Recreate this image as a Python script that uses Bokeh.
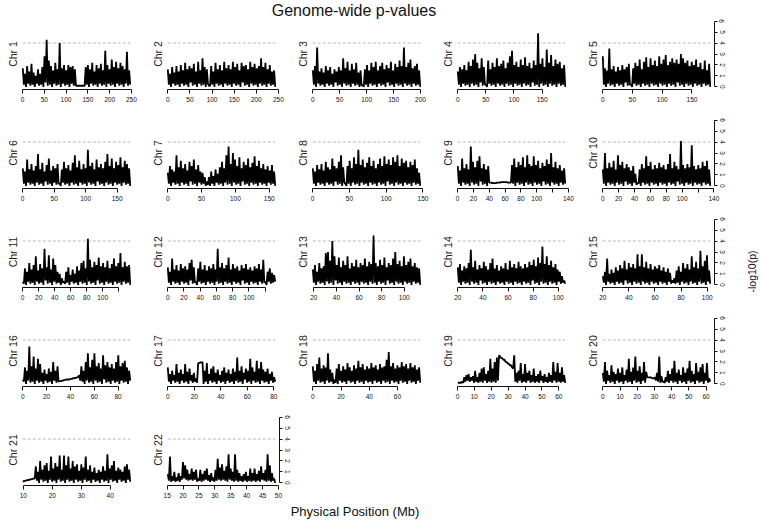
import numpy as np
from bokeh.plotting import figure
from bokeh.layouts import row, column
from bokeh.models import Range1d, Label, FixedTicker, Div, Spacer, Title
from bokeh.embed import file_html
from bokeh.resources import INLINE

FONT = "Liberation Sans"

# ---------------- data ----------------
chrom_names = ["Chr %d" % k for k in range(1, 23)]
chrom_start = [0.8, 0.0, 0.1, 0.1, 0.1, 0.2, 0.1, 0.2, 0.2, 0.1, 0.2, 0.1,
               19.1, 20.0, 20.0, 0.0, 0.0, 0.0, 0.2, 0.0, 9.8, 15.2]
chrom_end = [247.2, 242.7, 199.4, 191.1, 180.7, 170.8, 158.8, 146.2, 136.0, 135.3, 134.4, 132.3,
             114.1, 105.5, 102.3, 90.2, 81.1, 76.1, 63.8, 62.4, 46.9, 49.0]

THRESHOLD = 4
Y_TICKS = [0, 1, 2, 3, 4, 5, 6]

x_ticks = [
    [0, 50, 100, 150, 200, 250], [0, 50, 100, 150, 200, 250], [0, 50, 100, 150, 200],
    [0, 50, 100, 150], [0, 50, 100, 150],
    [0, 50, 100, 150], [0, 50, 100, 150], [0, 50, 100, 150],
    [0, 20, 40, 60, 80, 100, 120, 140], [0, 20, 40, 60, 80, 100, 120, 140],
    [0, 20, 40, 60, 80, 100, 120], [0, 20, 40, 60, 80, 100, 120],
    [20, 40, 60, 80, 100], [20, 40, 60, 80, 100], [20, 40, 60, 80, 100],
    [0, 20, 40, 60, 80], [0, 20, 40, 60, 80], [0, 20, 40, 60],
    [0, 10, 20, 30, 40, 50, 60], [0, 10, 20, 30, 40, 50, 60],
    [10, 20, 30, 40], [15, 20, 25, 30, 35, 40, 45, 50],
]
# ticks drawn without a label (labels dropped where they would collide)
unlabeled_ticks = {9: [120], 10: [120], 11: [120], 12: [120]}

chr1 = [1.7,0.2, 1.2,0.0, 1.9,0.3, 1.4,0.1, 2.1,0.2, 1.3,0.0, 1.0,0.3, 1.6,0.1, 1.2,0.2, 1.8,0.0,
        2.8,0.4, 4.3,0.1, 2.4,0.2, 1.9,0.0, 1.5,0.3, 2.2,0.1, 1.6,0.2, 4.0,0.0, 1.7,0.3, 2.0,0.1,
        1.5,0.2, 2.0,0.0, 1.8,0.3, 1.9,0.1, 1.6,0.1, 0.1,0.1, 0.1,0.1, 0.1,0.1, 0.1,0.1, 1.8,0.2,
        2.0,0.0, 1.6,0.3, 2.2,0.1, 1.4,0.2, 2.0,0.0, 1.7,0.3, 2.1,0.1, 1.5,0.2, 3.3,0.0, 2.0,0.3,
        1.6,0.1, 2.5,0.2, 1.8,0.0, 2.3,0.3, 1.7,0.1, 2.2,0.2, 1.9,0.0, 1.6,0.3, 3.2,0.1, 1.5,0.2]
chr2 = [1.6,0.2, 1.2,0.0, 1.8,0.3, 1.3,0.1, 1.9,0.2, 1.4,0.0, 2.0,0.3, 1.5,0.1, 2.2,0.2, 1.6,0.0,
        1.9,0.4, 1.7,0.1, 2.1,0.2, 1.4,0.0, 2.3,0.3, 1.5,0.1, 2.6,0.2, 1.8,0.0, 1.6,0.3, 0.1,0.1,
        1.9,0.2, 1.4,0.0, 2.2,0.3, 1.6,0.1, 2.0,0.2, 1.5,0.0, 2.3,0.3, 1.7,0.1, 2.0,0.2, 1.6,0.0,
        2.3,0.3, 1.8,0.1, 2.1,0.2, 1.5,0.0, 2.2,0.4, 1.9,0.1, 2.0,0.2, 1.6,0.0, 2.3,0.3, 1.8,0.1,
        2.1,0.2, 1.7,0.0, 1.9,0.3, 2.6,0.1, 1.8,0.2, 2.2,0.0, 1.6,0.3, 2.0,0.1, 1.4,0.2, 1.5,0.0]
chr3 = [1.5,0.2, 1.9,0.0, 3.6,0.3, 1.4,0.1, 1.7,0.2, 1.3,0.0, 1.9,0.3, 1.5,0.1, 1.8,0.2, 1.2,0.0,
        1.6,0.4, 1.4,0.1, 1.8,0.2, 1.5,0.0, 2.6,0.3, 1.7,0.1, 2.3,0.2, 1.5,0.0, 2.1,0.3, 1.6,0.1,
        2.2,0.2, 1.3,0.0, 1.5,0.1, 0.2,0.0, 1.6,0.2, 2.0,0.0, 1.5,0.3, 2.2,0.1, 1.8,0.2, 2.3,0.0,
        1.5,0.3, 1.9,0.1, 2.2,0.2, 1.6,0.0, 2.0,0.4, 1.7,0.1, 2.3,0.2, 1.5,0.0, 2.1,0.3, 1.8,0.1,
        2.4,0.2, 1.9,0.0, 3.6,0.3, 1.8,0.1, 2.2,0.2, 2.5,0.0, 1.7,0.3, 1.9,0.1, 2.1,0.2, 1.5,0.0]
chr4 = [1.4,0.2, 1.8,0.0, 1.6,0.3, 2.0,0.1, 1.5,0.2, 2.3,0.0, 1.9,0.3, 2.5,0.1, 3.0,0.2, 2.2,0.0,
        1.7,0.4, 2.6,0.1, 1.8,0.2, 0.2,0.0, 2.4,0.3, 1.6,0.1, 2.2,0.2, 1.8,0.0, 2.6,0.3, 1.9,0.1,
        2.1,0.2, 2.4,0.0, 1.7,0.3, 2.2,0.1, 2.8,0.2, 3.3,0.0, 2.0,0.3, 2.3,0.1, 1.8,0.2, 2.5,0.0,
        2.0,0.3, 2.7,0.1, 1.9,0.2, 2.2,0.0, 1.7,0.4, 2.4,0.1, 2.0,0.2, 4.9,0.0, 2.1,0.3, 2.6,0.1,
        1.8,0.2, 3.4,0.0, 2.2,0.3, 2.9,0.1, 1.9,0.2, 2.5,0.0, 2.1,0.3, 2.3,0.1, 1.7,0.2, 2.0,0.0]
chr5 = [2.8,0.2, 1.7,0.0, 1.5,0.3, 3.5,0.1, 1.6,0.2, 1.9,0.0, 1.4,0.3, 1.8,0.1, 1.5,0.2, 2.0,0.0,
        1.6,0.4, 1.8,0.1, 2.1,0.2, 0.2,0.0, 1.7,0.3, 2.2,0.1, 1.9,0.2, 2.5,0.0, 1.6,0.3, 2.3,0.1,
        2.7,0.2, 1.8,0.0, 2.6,0.3, 2.0,0.1, 2.4,0.2, 1.9,0.0, 2.8,0.3, 2.1,0.1, 2.5,0.2, 2.9,0.0,
        2.0,0.3, 2.3,0.1, 2.6,0.2, 2.2,0.0, 2.5,0.4, 2.1,0.1, 3.0,0.2, 2.6,0.0, 2.2,0.3, 2.4,0.1,
        1.9,0.2, 2.3,0.0, 2.0,0.3, 2.5,0.1, 1.8,0.2, 2.2,0.0, 1.6,0.3, 2.4,0.1, 1.5,0.2, 2.1,0.0]
chr6 = [1.6,0.2, 1.3,0.0, 2.4,0.3, 1.5,0.1, 2.0,0.2, 1.4,0.0, 1.8,0.3, 2.9,0.1, 1.5,0.2, 2.1,0.0,
        1.3,0.4, 1.9,0.1, 2.5,0.2, 1.4,0.0, 1.8,0.3, 1.6,0.1, 2.0,0.2, 0.2,0.0, 1.5,0.3, 2.2,0.1,
        1.6,0.2, 1.9,0.0, 1.4,0.3, 2.1,0.1, 2.8,0.2, 1.7,0.0, 2.3,0.3, 1.5,0.1, 2.0,0.2, 1.6,0.0,
        3.3,0.3, 1.8,0.1, 2.1,0.2, 1.5,0.0, 2.4,0.4, 1.7,0.1, 2.0,0.2, 1.6,0.0, 2.2,0.3, 2.9,0.1,
        1.8,0.2, 2.5,0.0, 1.6,0.3, 2.2,0.1, 1.9,0.2, 2.6,0.0, 1.7,0.3, 2.3,0.1, 2.0,0.2, 1.6,0.0]
chr7 = [1.2,0.2, 1.8,0.0, 1.5,0.3, 1.3,0.1, 2.8,0.2, 1.7,0.0, 2.3,0.3, 1.6,0.1, 2.0,0.2, 1.4,0.0,
        2.2,0.4, 1.8,0.1, 2.4,0.2, 1.5,0.0, 1.9,0.3, 1.3,0.1, 1.2,0.2, 0.8,0.0, 0.4,0.1, 0.8,0.0,
        1.3,0.2, 0.9,0.0, 1.5,0.3, 1.1,0.1, 1.7,0.2, 2.2,0.0, 1.6,0.3, 2.8,0.1, 3.6,0.2, 2.0,0.0,
        3.0,0.3, 2.4,0.1, 1.8,0.2, 2.6,0.0, 1.6,0.4, 2.2,0.1, 1.9,0.2, 2.5,0.0, 1.7,0.3, 2.1,0.1,
        2.7,0.2, 1.8,0.0, 2.3,0.3, 1.6,0.1, 2.0,0.2, 1.5,0.0, 1.8,0.3, 1.4,0.1, 1.9,0.2, 1.3,0.0]
chr8 = [1.6,0.2, 1.3,0.0, 1.9,0.3, 1.5,0.1, 2.0,0.2, 1.4,0.0, 2.2,0.3, 1.7,0.1, 1.5,0.2, 2.5,0.0,
        1.8,0.4, 1.6,0.1, 2.2,0.2, 2.8,0.0, 1.7,0.3, 0.2,0.0, 1.8,0.2, 2.3,0.0, 1.6,0.3, 2.6,0.1,
        2.0,0.2, 3.3,0.0, 1.9,0.3, 2.4,0.1, 1.7,0.2, 2.1,0.0, 2.6,0.3, 1.8,0.1, 2.3,0.2, 1.6,0.0,
        2.0,0.3, 2.5,0.1, 1.8,0.2, 2.7,0.0, 2.0,0.4, 2.4,0.1, 1.9,0.2, 2.6,0.0, 2.2,0.3, 2.8,0.1,
        1.8,0.2, 2.5,0.0, 2.1,0.3, 2.3,0.1, 1.7,0.2, 2.2,0.0, 1.9,0.3, 2.4,0.1, 1.6,0.2, 1.2,0.0]
chr9 = [1.8,0.2, 1.4,0.0, 2.5,0.3, 1.6,0.1, 2.0,0.2, 1.5,0.0, 3.6,0.3, 2.2,0.1, 1.7,0.2, 2.3,0.0,
        2.7,0.4, 1.6,0.1, 2.0,0.2, 1.5,0.0, 1.8,0.3,
        0.3,0.3, 0.25,0.25, 0.25,0.25, 0.3,0.3, 0.3,0.3, 0.35,0.35, 0.35,0.35, 0.35,0.35, 0.3,0.3, 0.3,0.3,
        1.9,0.2, 2.5,0.0, 1.7,0.3, 2.2,0.1, 1.9,0.2, 2.6,0.0, 1.7,0.3, 2.8,0.1, 2.0,0.2, 1.8,0.0,
        2.7,0.3, 1.9,0.1, 2.3,0.2, 1.6,0.0, 2.1,0.4, 1.8,0.1, 2.4,0.2, 2.0,0.0, 3.0,0.3, 1.7,0.1,
        2.2,0.2, 1.6,0.0, 1.9,0.3, 1.4,0.1, 1.6,0.2]
chr10 = [1.5,0.2, 3.0,0.0, 1.6,0.3, 2.1,0.1, 1.7,0.2, 2.3,0.0, 1.5,0.3, 2.8,0.1, 1.9,0.2, 2.2,0.0,
         1.6,0.4, 2.0,0.1, 1.7,0.2, 1.4,0.0, 1.8,0.3, 1.1,0.1, 0.3,0.2, 1.5,0.0, 2.0,0.3, 1.6,0.1,
         2.7,0.2, 1.8,0.0, 2.2,0.3, 1.5,0.1, 1.9,0.2, 1.6,0.0, 2.1,0.3, 1.7,0.1, 1.9,0.2, 1.5,0.0,
         2.0,0.3, 2.9,0.1, 1.6,0.2, 2.2,0.0, 1.8,0.4, 1.5,0.1, 4.1,0.2, 1.9,0.0, 1.6,0.3, 2.0,0.1,
         1.7,0.2, 3.7,0.0, 1.8,0.3, 1.5,0.1, 1.9,0.2, 1.6,0.0, 2.2,0.3, 1.8,0.1, 2.3,0.2, 1.5,0.0]
chr11 = [0.3,0.1, 1.5,0.0, 1.2,0.3, 2.0,0.1, 1.4,0.2, 1.8,0.0, 2.6,0.3, 1.3,0.1, 1.9,0.2, 1.5,0.0,
         3.3,0.4, 1.6,0.1, 2.7,0.2, 1.4,0.0, 2.4,0.3, 1.8,0.1, 1.2,0.2, 1.0,0.0, 0.6,0.2, 0.3,0.1,
         1.2,0.2, 1.6,0.0, 0.9,0.3, 1.4,0.1, 1.0,0.2, 1.7,0.0, 1.3,0.3, 2.0,0.1, 2.2,0.2, 1.5,0.0,
         4.2,0.3, 2.3,0.1, 1.6,0.2, 2.1,0.0, 1.8,0.4, 2.5,0.1, 1.7,0.2, 2.0,0.0, 1.6,0.3, 2.2,0.1,
         1.5,0.2, 1.9,0.0, 2.4,0.3, 1.7,0.1, 2.0,0.2, 2.9,0.0, 1.6,0.3, 2.1,0.1, 1.7,0.2, 1.8,0.0]
chr12 = [1.6,0.2, 1.2,0.0, 2.4,0.3, 1.4,0.1, 1.8,0.2, 1.3,0.0, 1.9,0.3, 1.5,0.1, 1.7,0.2, 1.4,0.0,
         2.0,0.4, 2.3,0.1, 1.6,0.2, 0.3,0.0, 1.5,0.3, 2.1,0.1, 1.4,0.2, 1.8,0.0, 1.3,0.3, 1.7,0.1,
         1.5,0.2, 1.9,0.0, 1.4,0.3, 3.3,0.1, 1.6,0.2, 2.0,0.0, 1.5,0.3, 1.8,0.1, 2.5,0.2, 1.4,0.0,
         1.9,0.3, 1.5,0.1, 1.7,0.2, 1.3,0.0, 1.8,0.4, 1.5,0.1, 1.9,0.2, 1.4,0.0, 1.6,0.3, 1.3,0.1,
         1.7,0.2, 1.5,0.0, 1.9,0.3, 1.4,0.1, 2.3,0.2, 0.3,0.0, 1.2,0.3, 1.5,0.1, 1.1,0.2, 0.9,0.3]
chr13 = [1.4,0.2, 1.8,0.0, 1.2,0.3, 2.0,0.1, 1.5,0.2, 1.7,0.0, 2.9,0.3, 3.0,0.1, 2.2,0.2, 4.0,0.0,
         2.6,0.4, 1.8,0.1, 2.5,0.2, 1.6,0.0, 2.2,0.3, 1.8,0.1, 2.6,0.2, 1.5,0.0, 2.0,0.3, 1.7,0.1,
         2.3,0.2, 1.6,0.0, 2.0,0.3, 1.8,0.1, 2.4,0.2, 1.7,0.0, 2.1,0.3, 1.9,0.1, 4.5,0.2, 2.0,0.0,
         1.7,0.3, 2.3,0.1, 1.8,0.2, 2.5,0.0, 1.6,0.4, 2.0,0.1, 1.8,0.2, 2.4,0.0, 3.0,0.3, 1.9,0.1,
         2.2,0.2, 1.7,0.0, 2.6,0.3, 1.8,0.1, 2.1,0.2, 2.4,0.0, 1.7,0.3, 2.0,0.1, 1.6,0.2, 1.5,0.0]
chr14 = [1.6,0.2, 1.9,0.0, 1.3,0.3, 1.7,0.1, 1.5,0.2, 2.0,0.0, 3.2,0.3, 1.6,0.1, 2.2,0.2, 1.4,0.0,
         1.8,0.4, 1.5,0.1, 2.1,0.2, 1.7,0.0, 1.4,0.3, 2.0,0.1, 2.4,0.2, 1.5,0.0, 1.8,0.3, 1.3,0.1,
         1.7,0.2, 1.5,0.0, 2.0,0.3, 1.4,0.1, 2.2,0.2, 1.6,0.0, 1.9,0.3, 1.5,0.1, 2.1,0.2, 1.7,0.0,
         1.5,0.3, 1.9,0.1, 1.6,0.2, 2.1,0.0, 1.8,0.4, 2.3,0.1, 1.7,0.2, 2.5,0.0, 2.0,0.3, 3.5,0.1,
         1.9,0.2, 2.6,0.0, 1.8,0.3, 2.2,0.1, 1.6,0.2, 1.9,0.0, 1.4,0.3, 1.2,0.1, 0.8,0.2, 0.4,0.1]
chr15 = [0.8,0.2, 1.2,0.0, 2.4,0.3, 1.0,0.1, 1.4,0.2, 1.1,0.0, 1.6,0.3, 1.3,0.1, 1.8,0.2, 1.5,0.0,
         2.2,0.4, 1.4,0.1, 2.0,0.2, 1.6,0.0, 1.9,0.3, 1.5,0.1, 2.8,0.2, 1.7,0.0, 2.8,0.3, 1.6,0.1,
         2.1,0.2, 1.5,0.0, 1.9,0.3, 1.4,0.1, 1.7,0.2, 1.5,0.0, 1.8,0.3, 1.3,0.1, 1.6,0.2, 1.2,0.0,
         1.5,0.3, 1.1,0.1, 0.4,0.2, 0.6,0.1, 1.3,0.2, 1.7,0.0, 1.2,0.3, 2.0,0.1, 1.5,0.2, 1.9,0.0,
         1.4,0.3, 2.6,0.1, 1.6,0.2, 2.1,0.0, 1.5,0.3, 3.1,0.1, 1.7,0.2, 2.2,0.0, 2.7,0.3, 1.3,0.1]
chr16 = [0.4,0.2, 1.5,0.0, 1.2,0.3, 3.4,0.1, 1.6,0.2, 2.5,0.0, 1.4,0.3, 2.3,0.1, 1.8,0.2, 1.0,0.0,
         1.3,0.3, 0.9,0.1, 1.4,0.2, 1.1,0.0, 2.0,0.3, 1.2,0.1, 1.6,0.2,
         0.25,0.25, 0.3,0.3, 0.35,0.35, 0.4,0.4, 0.4,0.4, 0.45,0.45, 0.5,0.5, 0.55,0.55, 0.6,0.6, 0.8,0.3,
         1.6,0.2, 1.2,0.0, 2.0,0.3, 2.8,0.1, 1.5,0.2, 2.2,0.0, 2.8,0.3, 1.6,0.1, 1.9,0.2, 1.4,0.0,
         2.6,0.4, 1.7,0.1, 2.0,0.2, 1.5,0.0, 1.8,0.3, 1.4,0.1, 2.0,0.2, 2.6,0.0, 1.6,0.3, 1.9,0.1,
         2.1,0.2, 1.5,0.0, 1.2,0.3]
chr17 = [1.5,0.2, 0.9,0.0, 1.2,0.3, 0.8,0.1, 1.8,0.2, 1.0,0.0, 1.3,0.3, 0.9,0.1, 1.8,0.2, 1.1,0.0,
         1.4,0.3, 0.8,0.1, 1.0,0.2, 0.5,0.1, 1.9,1.9, 1.95,1.95, 2.0,0.0, 1.2,0.2, 1.9,0.0, 0.9,0.3,
         1.4,0.1, 1.6,0.2, 1.0,0.0, 1.3,0.3, 0.8,0.1, 1.2,0.2, 1.5,0.0, 1.0,0.3, 1.3,0.1, 0.9,0.2,
         1.4,0.0, 1.1,0.3, 2.4,0.1, 1.2,0.2, 1.6,0.0, 1.0,0.4, 1.4,0.1, 1.2,0.2, 2.3,0.0, 1.5,0.3,
         1.1,0.1, 2.1,0.2, 1.4,0.0, 2.0,0.3, 1.3,0.1, 1.1,0.2, 1.4,0.0, 0.9,0.3, 1.1,0.1, 0.6,0.2]
chr18 = [1.6,0.2, 1.2,0.0, 1.8,0.3, 2.4,0.1, 1.4,0.2, 1.7,0.0, 1.5,0.3, 2.8,0.1, 1.3,0.2, 1.0,0.0,
         0.4,0.1, 1.4,0.0, 1.8,0.3, 1.2,0.1, 1.6,0.2, 1.3,0.0, 1.9,0.3, 1.5,0.1, 1.2,0.2, 1.7,0.0,
         1.4,0.3, 2.1,0.1, 1.5,0.2, 1.8,0.0, 1.3,0.3, 1.6,0.1, 1.4,0.2, 1.9,0.0, 1.5,0.3, 1.7,0.1,
         1.3,0.2, 1.8,0.0, 1.5,0.3, 1.6,0.1, 2.2,0.2, 2.9,0.0, 1.6,0.3, 1.9,0.1, 1.4,0.2, 1.7,0.0,
         1.5,0.3, 2.0,0.1, 1.6,0.2, 1.8,0.0, 1.4,0.3, 1.9,0.1, 1.5,0.2, 1.7,0.0, 1.3,0.3, 1.5,0.1]
chr19 = [0.1,0.1, 0.1,0.1, 0.2,0.1, 0.6,0.2, 0.8,0.3, 0.9,0.2, 0.6,0.3, 0.7,0.1, 1.2,0.2, 0.6,0.1,
         1.0,0.2, 1.4,0.1, 1.5,0.3, 0.9,0.1, 1.2,0.2, 2.3,0.1, 1.4,0.2, 2.0,0.1, 2.4,0.3, 2.6,2.5,
         2.35,2.35, 2.2,2.2, 2.0,2.0, 1.85,1.85, 1.7,1.7, 1.5,1.4, 2.6,0.2, 1.0,0.1, 1.2,0.3, 1.9,0.1,
         0.9,0.2, 1.8,0.1, 1.0,0.3, 1.2,0.1, 0.8,0.2, 1.4,0.1, 0.7,0.2, 0.9,0.1, 1.2,0.3, 0.7,0.1,
         0.9,0.2, 0.6,0.1, 1.0,0.2, 0.8,0.1, 2.0,0.3, 1.1,0.1, 1.9,0.2, 1.0,0.1, 1.5,0.2, 0.8,0.1]
chr20 = [1.0,0.2, 2.0,0.0, 1.2,0.3, 0.8,0.1, 1.7,0.2, 1.1,0.0, 0.9,0.3, 1.4,0.1, 1.0,0.2, 1.5,0.0,
         0.8,0.3, 1.3,0.1, 2.3,0.2, 1.1,0.0, 1.5,0.3, 2.5,0.1, 1.2,0.2, 1.6,0.0, 1.0,0.3, 2.0,0.1,
         1.1,0.6, 0.6,0.6, 0.6,0.55, 0.5,0.5, 0.6,0.3, 1.0,0.2, 2.5,0.1, 0.7,0.2, 0.2,0.1, 0.6,0.2,
         1.2,0.1, 0.9,0.3, 1.4,0.1, 2.1,0.2, 1.0,0.0, 1.3,0.3, 0.8,0.1, 1.5,0.2, 1.0,0.0, 1.4,0.3,
         2.1,0.1, 1.2,0.2, 0.9,0.0, 1.9,0.3, 1.1,0.1, 1.5,0.2, 1.8,0.0, 1.0,0.3, 1.9,0.1, 0.5,0.2]
chr21 = [0.15,0.15, 0.2,0.2, 0.25,0.25, 0.3,0.3, 0.35,0.35, 0.4,0.4, 1.5,0.2, 1.0,0.0, 2.0,0.3, 1.2,0.1,
         1.6,0.2, 1.8,0.0, 1.1,0.3, 2.4,0.1, 1.3,0.2, 1.8,0.0, 1.5,0.3, 2.5,0.1, 1.2,0.2, 2.5,0.0,
         1.6,0.3, 2.4,0.1, 1.3,0.2, 2.0,0.0, 1.5,0.3, 1.7,0.1, 1.1,0.2, 1.7,0.0, 1.4,0.3, 2.4,0.1,
         1.2,0.2, 1.6,0.0, 1.0,0.3, 1.4,0.1, 0.9,0.2, 1.2,0.0, 1.0,0.3, 1.5,0.1, 1.1,0.2, 2.6,0.0,
         1.3,0.3, 1.6,0.1, 2.0,0.2, 1.1,0.0, 1.4,0.3, 1.2,0.1, 1.0,0.2, 1.5,0.0, 1.7,0.3, 1.2,0.1]
chr22 = [0.8,0.2, 2.4,0.1, 0.6,0.2, 1.0,0.1, 0.5,0.2, 0.9,0.1, 0.6,0.3, 1.9,0.4, 1.6,0.3, 1.2,0.2,
         0.8,0.3, 1.3,0.2, 1.0,0.3, 1.2,0.1, 0.4,0.2, 1.2,0.1, 0.8,0.2, 1.1,0.3, 1.3,0.2, 0.7,0.1,
         0.9,0.2, 0.5,0.1, 1.2,0.2, 2.2,0.3, 1.4,0.2, 1.7,0.3, 1.1,0.2, 1.5,0.1, 2.6,0.3, 1.3,0.2,
         1.0,0.1, 2.6,0.2, 1.2,0.1, 0.9,0.2, 0.6,0.1, 0.8,0.2, 1.0,0.1, 0.6,0.2, 1.3,0.1, 0.9,0.2,
         1.3,0.1, 0.8,0.2, 1.1,0.1, 1.5,0.3, 0.9,0.2, 1.2,0.1, 2.6,0.2, 1.6,0.1, 0.9,0.2, 0.4,0.0]

series = [chr1, chr2, chr3, chr4, chr5, chr6, chr7, chr8, chr9, chr10, chr11,
          chr12, chr13, chr14, chr15, chr16, chr17, chr18, chr19, chr20, chr21, chr22]

# ---------------- layout ----------------
PAGE_W = 762
TITLE_H = 18         # space above the first panel row
PANEL_W = 145
FRAME_W = 117
FRAME_H = 71
LEFT_B, TOP_B, BOTTOM_B = 13, 8, 20
RIGHT_B = PANEL_W - FRAME_W - LEFT_B
OUTER_L = 17 - LEFT_B  # first frame starts 17px from the page edge
Y_LO, Y_HI = 0, 6
Y_PAD = 0.04 * (Y_HI - Y_LO)
LINE_W = 1.8

grid_layout = [[0, 1, 2, 3, 4], [5, 6, 7, 8, 9], [10, 11, 12, 13, 14],
               [15, 16, 17, 18, 19], [20, 21]]


def make_panel(i, r, right_axis):
    s, e = chrom_start[i], chrom_end[i]
    pad = 0.04 * (e - s)
    top = 0 if r == 0 else TOP_B
    p = figure(width=PANEL_W, height=top + FRAME_H + BOTTOM_B,
               x_range=Range1d(s - pad, e + pad),
               y_range=Range1d(Y_LO - Y_PAD, Y_HI + Y_PAD),
               output_backend="svg", toolbar_location=None,
               y_axis_location="right" if right_axis else None,
               min_border_left=LEFT_B, min_border_right=RIGHT_B,
               min_border_top=top, min_border_bottom=BOTTOM_B)
    p.outline_line_color = None
    p.grid.visible = False
    p.background_fill_color = None
    p.border_fill_color = None

    ax = p.xaxis[0]
    ticks = x_ticks[i]
    ax.ticker = FixedTicker(ticks=ticks, minor_ticks=[])
    ax.bounds = (ticks[0], ticks[-1])
    ov = unlabeled_ticks.get(i + 1, [])
    if ov:
        ax.major_label_overrides = {t: "" for t in ov}
    ax.major_tick_out = 4
    ax.major_tick_in = 0
    ax.minor_tick_line_color = None
    ax.axis_line_color = "#111111"
    ax.major_tick_line_color = "#111111"
    ax.major_label_text_font = FONT
    ax.major_label_text_font_size = "6.5px"
    ax.major_label_text_color = "#111111"
    ax.major_label_standoff = 3

    if right_axis:
        ay = p.yaxis[0]
        ay.ticker = FixedTicker(ticks=Y_TICKS, minor_ticks=[])
        ay.bounds = (Y_TICKS[0], Y_TICKS[-1])
        ay.major_tick_out = 3
        ay.major_tick_in = 0
        ay.minor_tick_line_color = None
        ay.axis_line_color = "#111111"
        ay.major_tick_line_color = "#111111"
        ay.major_label_text_font = FONT
        ay.major_label_text_font_size = "6.5px"
        ay.major_label_text_color = "#111111"
        ay.major_label_orientation = "vertical"
        ay.major_label_standoff = 2

    p.line([s, e], [THRESHOLD, THRESHOLD], line_color="#b8b8b8",
           line_dash="3 2", line_width=1)
    vals = series[i]
    xs = np.linspace(s, e, len(vals))
    p.line(xs, vals, line_color="black", line_width=LINE_W)

    p.add_layout(Title(text=chrom_names[i], align="center", standoff=0,
                       text_font=FONT, text_font_size="10.5px",
                       text_font_style="normal", text_color="#222222"), "left")
    return p


rows = []
for r, idxs in enumerate(grid_layout):
    figs = []
    for c, i in enumerate(idxs):
        right = (c == 4) or (i == 21)
        figs.append(make_panel(i, r, right))
    if len(idxs) < 5:
        h = TOP_B + FRAME_H + BOTTOM_B
        figs.append(Spacer(width=PANEL_W * (5 - len(idxs)), height=h))
    rows.append(row(*figs, spacing=0))
grid = column(*rows, spacing=0)

grid_h = FRAME_H + BOTTOM_B + 4 * (TOP_B + FRAME_H + BOTTOM_B)
ylab_w = PAGE_W - OUTER_L - 5 * PANEL_W
ylab = figure(width=ylab_w, height=grid_h, x_range=Range1d(0, 1), y_range=Range1d(0, 1),
              x_axis_location=None, y_axis_location=None, toolbar_location=None,
              output_backend="svg", min_border=0)
ylab.outline_line_color = None
ylab.grid.visible = False
ylab.background_fill_color = None
ylab.border_fill_color = None
ylab.add_layout(Label(x=ylab_w - 11, y=grid_h - 253, x_units="screen", y_units="screen",
                      text="-log10(p)", angle=np.pi / 2, text_align="center",
                      text_baseline="middle", text_font=FONT, text_font_size="10.5px",
                      text_color="#111111"))

title = Div(text=('<div style="position:relative; top:3px; width:708px; text-align:center; '
                  'font-family:\'Liberation Sans\',Arial,sans-serif; font-size:16px; '
                  'line-height:16px; color:#111; white-space:nowrap;">Genome-wide p-values</div>'),
            width=PAGE_W, height=TITLE_H, margin=(0, 0, 0, 0), styles={"overflow": "visible"})
xlab = Div(text=('<div style="position:relative; top:-1px; width:710px; text-align:center; '
                 'font-family:\'Liberation Sans\',Arial,sans-serif; font-size:13px; '
                 'line-height:13px; color:#111; white-space:nowrap;">Physical Position (Mb)</div>'),
           width=PAGE_W, height=18, margin=(0, 0, 0, 0), styles={"overflow": "visible"})

root = column(title,
              row(Spacer(width=OUTER_L, height=grid_h), grid, ylab, spacing=0),
              xlab, spacing=0)

open("out.html", "w").write(file_html(root, INLINE, title="Genome-wide p-values"))
